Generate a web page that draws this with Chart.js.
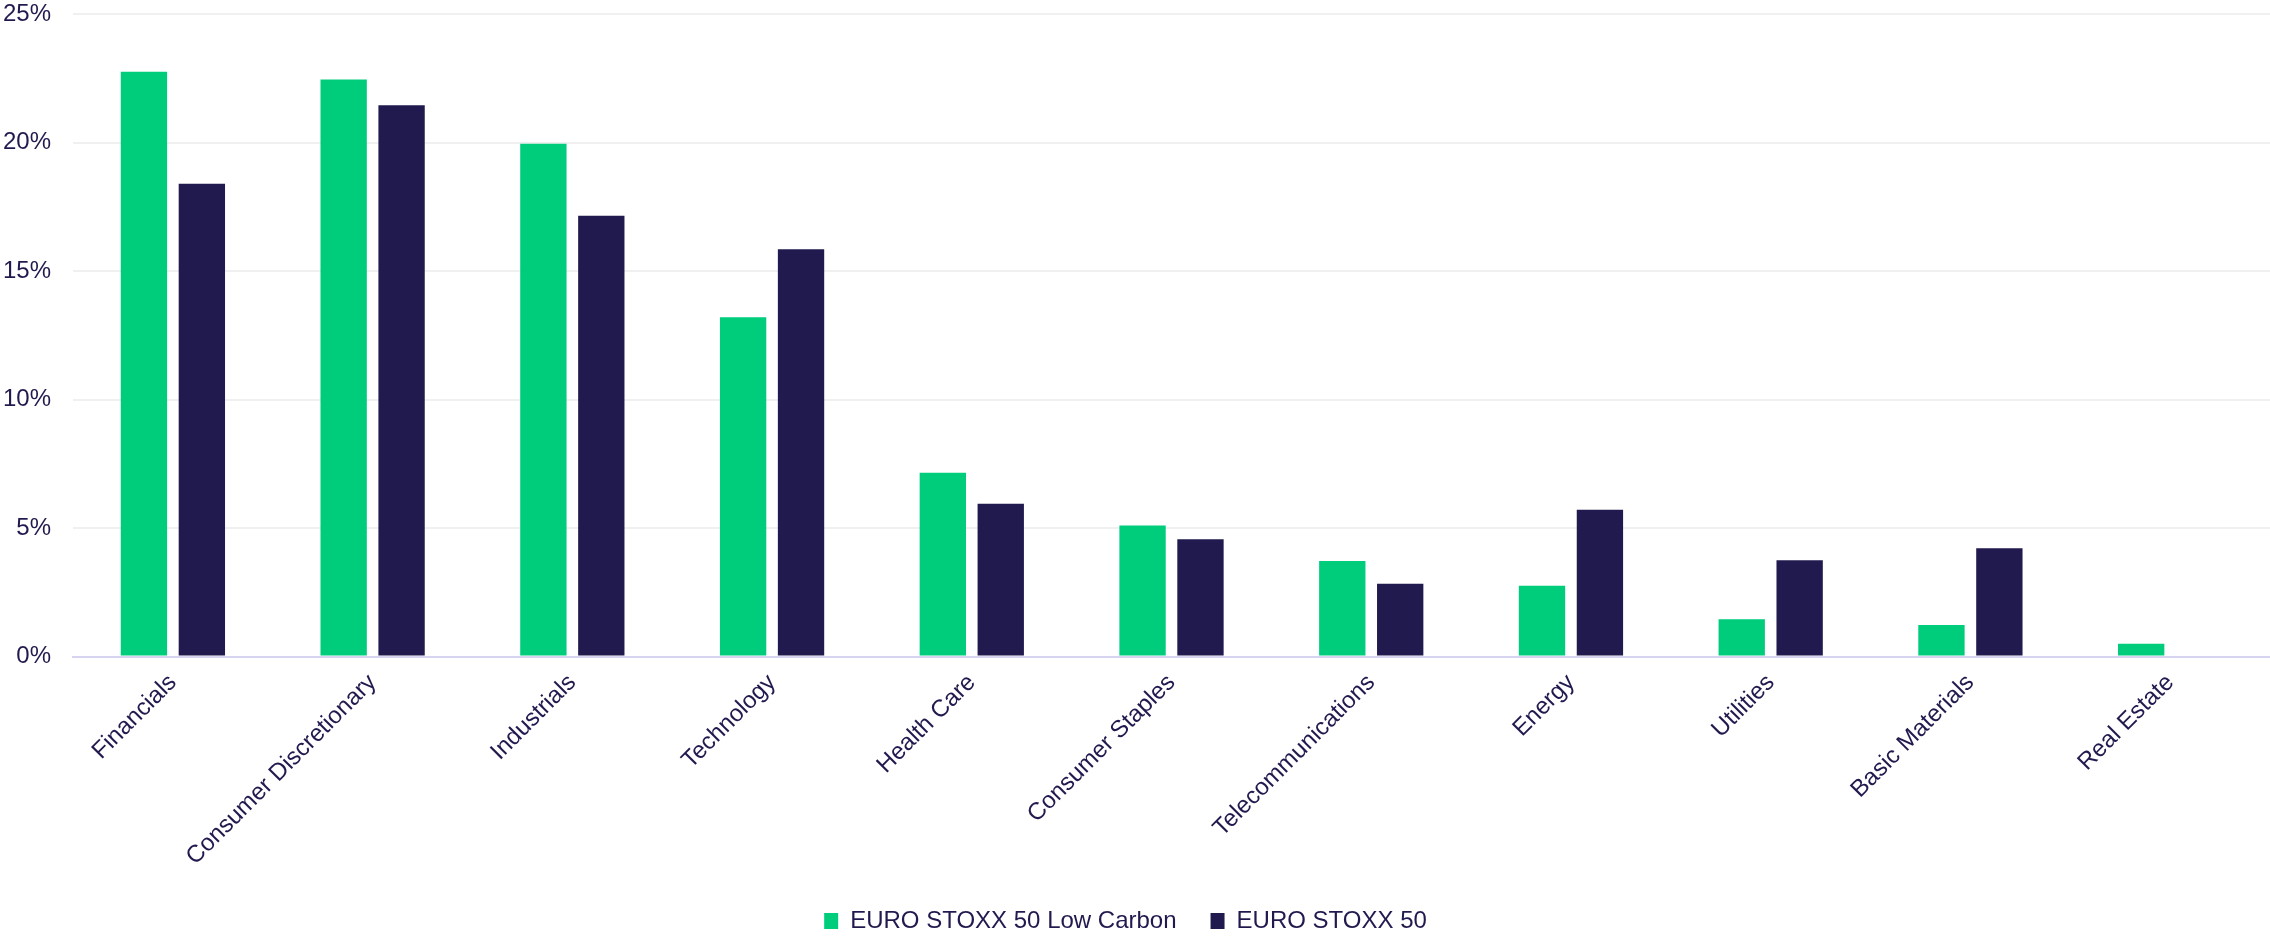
<!DOCTYPE html>
<html>
<head>
<meta charset="utf-8">
<script src="https://cdn.jsdelivr.net/npm/chart.js@4"></script>
<style>
  html, body { margin: 0; padding: 0; background: #ffffff; }
  #wrap { width: 2270px; height: 937px; position: relative; }
</style>
</head>
<body>
<div id="wrap"><canvas id="sectorChart"></canvas></div>
<script>
// 行业分类
const sectors = [
    'Financials', 'Consumer Discretionary', 'Industrials', 'Technology', 'Health Care',
    'Consumer Staples', 'Telecommunications', 'Energy', 'Utilities', 'Basic Materials', 'Real Estate'
];
// 权重 (%)
const lowCarbonWeights = [22.75, 22.45, 19.95, 13.2, 7.15, 5.1, 3.72, 2.76, 1.45, 1.23, 0.5];
const benchmarkWeights = [18.4, 21.45, 17.15, 15.85, 5.95, 4.57, 2.83, 5.71, 3.75, 4.22, 0];
const yTicks = [0, 5, 10, 15, 20, 25];

const NAVY = '#201a4e';
const GREEN = '#00cd7c';
const FONT = 'Liberation Sans, Arial';

const ctx = document.getElementById('sectorChart').getContext('2d');
window.sectorChart = new Chart(ctx, {
    type: 'bar',
    data: {
        labels: sectors,
        datasets: [
            {
                label: 'EURO STOXX 50 Low Carbon',
                data: lowCarbonWeights,
                backgroundColor: GREEN,
                categoryPercentage: 0.58,
                barPercentage: 0.8
            },
            {
                label: 'EURO STOXX 50',
                data: benchmarkWeights,
                backgroundColor: NAVY,
                categoryPercentage: 0.58,
                barPercentage: 0.8
            }
        ]
    },
    options: {
        responsive: true,
        maintainAspectRatio: false,
        animation: false,
        layout: { padding: { top: 0, right: 0, bottom: -6, left: -19 } },
        scales: {
            x: {
                // 旋转标签不额外占用左右留白
                afterFit: axis => { axis.paddingLeft = 0; axis.paddingRight = 0; },
                grid: { display: false },
                border: { color: '#d6d4f0', width: 2 },
                ticks: {
                    color: NAVY,
                    font: { family: FONT, size: 24 },
                    maxRotation: 45,
                    minRotation: 45,
                    padding: 4
                }
            },
            y: {
                min: 0,
                max: 25,
                afterBuildTicks: axis => { axis.ticks = yTicks.map(v => ({ value: v })); },
                afterFit: axis => { axis.paddingTop = 14; },
                grid: { color: '#f0f0f0', lineWidth: 2, drawTicks: false },
                border: { display: false },
                ticks: {
                    color: NAVY,
                    font: { family: FONT, size: 24 },
                    padding: 22,
                    callback: value => value + '%'
                }
            }
        },
        plugins: {
            legend: {
                position: 'bottom',
                labels: {
                    color: NAVY,
                    font: { family: FONT, size: 24 },
                    boxWidth: 14,
                    boxHeight: 16,
                    padding: 34
                }
            },
            tooltip: { enabled: false }
        }
    }
});
</script>
</body>
</html>
